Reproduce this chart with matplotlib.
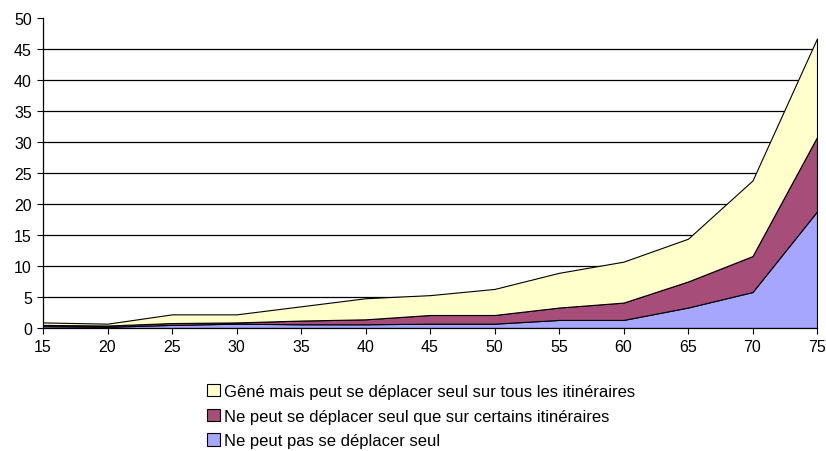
import matplotlib.pyplot as plt
import numpy as np
from matplotlib.patches import Patch

plt.rcParams['font.family'] = ['Liberation Sans', 'DejaVu Sans']

ages = [15, 20, 25, 30, 35, 40, 45, 50, 55, 60, 65, 70, 75]
# valeurs cumulees
blue_top = [0.3, 0.2, 0.5, 0.7, 0.6, 0.6, 0.7, 0.7, 1.3, 1.3, 3.3, 5.8, 18.8]
maroon_top = [0.5, 0.4, 0.8, 0.9, 1.2, 1.4, 2.1, 2.1, 3.3, 4.1, 7.5, 11.6, 30.8]
yellow_top = [0.9, 0.7, 2.2, 2.2, 3.5, 4.8, 5.3, 6.3, 8.9, 10.7, 14.4, 23.8, 46.7]

labels = ["Gêné mais peut se déplacer seul sur tous les itinéraires",
          "Ne peut se déplacer seul que sur certains itinéraires",
          "Ne peut pas se déplacer seul"]
colors = ["#FFFFCC", "#A64D79", "#A6A6FF"]

blue = np.array(blue_top)
maroon = np.array(maroon_top) - blue
yellow = np.array(yellow_top) - np.array(maroon_top)

fig = plt.figure(figsize=(8.26, 4.52), dpi=100)
ax = fig.add_axes([43 / 826, 1 - 329 / 452, 774 / 826, 310 / 452])

ax.stackplot(ages, blue, maroon, yellow,
             colors=[colors[2], colors[1], colors[0]],
             edgecolor="black", linewidth=0.8, zorder=3)

for v in range(5, 50, 5):
    ax.axhline(v, color="black", linewidth=0.9, zorder=1)

ax.set_xlim(15, 75)
ax.set_ylim(0, 50)
ax.set_xticks(ages)
ax.set_yticks(range(0, 51, 5))
ax.tick_params(labelsize=11.5, length=4, width=0.8, direction="out", pad=4)
for s in ["top", "right"]:
    ax.spines[s].set_visible(False)
ax.spines["left"].set_linewidth(0.9)
ax.spines["bottom"].set_linewidth(0.9)
ax.spines["bottom"].set_zorder(4)

handles = [Patch(facecolor=c, edgecolor="black", linewidth=0.8) for c in colors]
fig.legend(handles, labels, loc="upper left", bbox_to_anchor=(207 / 826, 1 - 385 / 452),
           frameon=False, fontsize=12, handlelength=0.75, handleheight=0.75,
           handletextpad=0.3, labelspacing=0.58, borderaxespad=0, borderpad=0)

fig.savefig("out.png", dpi=100)
